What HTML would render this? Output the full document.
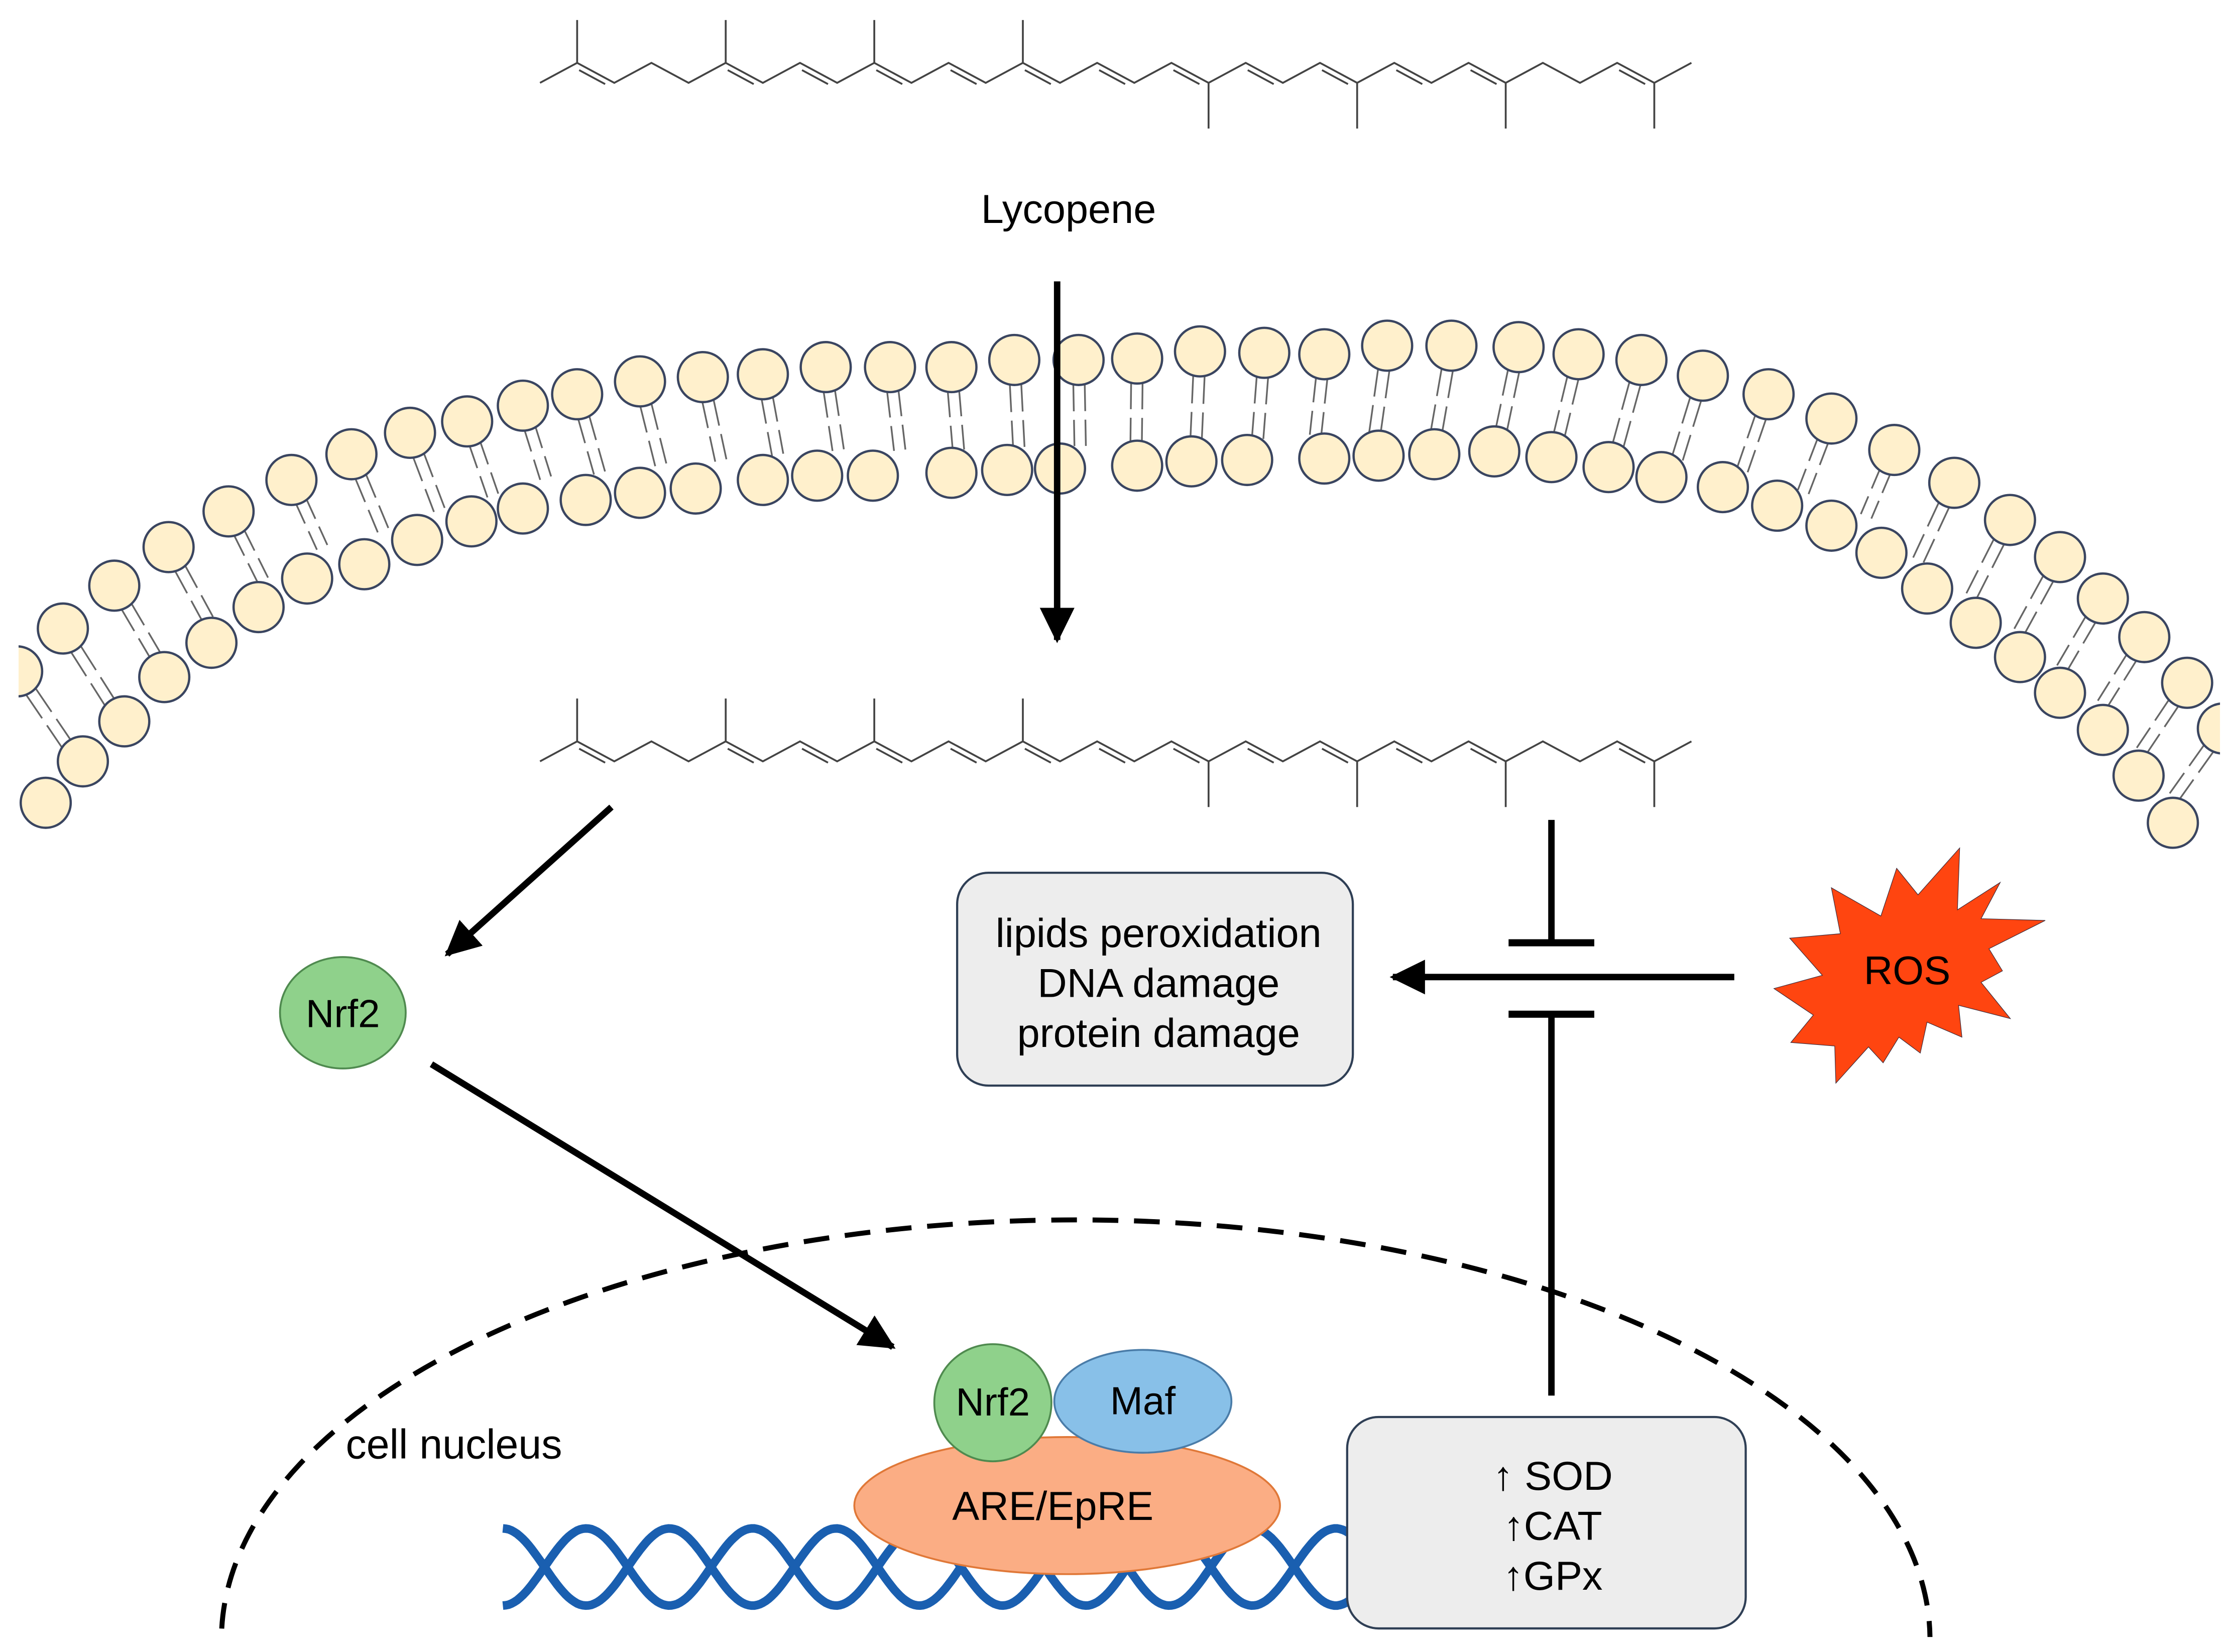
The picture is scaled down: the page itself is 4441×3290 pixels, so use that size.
<!DOCTYPE html>
<html><head><meta charset="utf-8"><style>
html,body{margin:0;padding:0;background:#fff;width:4441px;height:3290px;overflow:hidden}
svg{display:block}
text{font-family:"Liberation Sans",Arial,sans-serif;fill:#000}
</style></head><body>
<svg id="s" width="4441" height="3290" viewBox="0 0 1561 1156.5" preserveAspectRatio="none" xmlns="http://www.w3.org/2000/svg">
<defs>
<marker id="ah" markerWidth="6" markerHeight="6" refX="5" refY="3" orient="auto" markerUnits="strokeWidth">
<path d="M0,0.3 L5.5,3 L0,5.7 Z" fill="#000"/></marker>
<clipPath id="cl"><rect x="13" y="0" width="1541" height="1156"/></clipPath>
<clipPath id="cn"><rect x="0" y="0" width="1561" height="1146"/></clipPath>
</defs>
<g id="mem" clip-path="url(#cl)"></g>
<g id="mol1" stroke="#444" stroke-width="1.3" fill="none"></g>
<g id="mol2" stroke="#444" stroke-width="1.3" fill="none" transform="translate(0,475)"></g>
<text x="748" y="156" font-size="28.5" text-anchor="middle">Lycopene</text>

<ellipse cx="753" cy="1148" rx="598" ry="294" fill="none" stroke="#000" stroke-width="3.5" stroke-dasharray="18,11" clip-path="url(#cn)"/>
<text x="242" y="1021" font-size="29">cell nucleus</text>

<line x1="740" y1="197" x2="740" y2="448" stroke="#000" stroke-width="4.5" marker-end="url(#ah)"/>
<line x1="428" y1="565" x2="313" y2="668" stroke="#000" stroke-width="4.5" marker-end="url(#ah)"/>
<line x1="302" y1="745" x2="625" y2="943" stroke="#000" stroke-width="4.5" marker-end="url(#ah)"/>
<line x1="1214" y1="684" x2="975" y2="684" stroke="#000" stroke-width="4.5" marker-end="url(#ah)"/>
<line x1="1086" y1="574" x2="1086" y2="660" stroke="#000" stroke-width="4.5"/>
<line x1="1056" y1="660" x2="1116" y2="660" stroke="#000" stroke-width="5"/>
<line x1="1056" y1="710" x2="1116" y2="710" stroke="#000" stroke-width="5"/>
<line x1="1086" y1="710" x2="1086" y2="977" stroke="#000" stroke-width="4.5"/>

<rect x="670" y="611" width="277" height="149" rx="22" fill="#ededed" stroke="#2f3f55" stroke-width="1.5"/>
<text x="811" y="663" font-size="28.5" text-anchor="middle">lipids peroxidation</text>
<text x="811" y="698" font-size="28.5" text-anchor="middle">DNA damage</text>
<text x="811" y="733" font-size="28.5" text-anchor="middle">protein damage</text>

<polygon transform="translate(1212.6,580) scale(0.1576,0.1238)" fill="#ff4510" stroke="#3a2a3a" stroke-width="1.2" vector-effect="non-scaling-stroke"
points="1010,110 1000,460 1190,305 1105,510 1390,520 1140,680 1200,805 1105,870 1235,1075 1005,1000 1020,1180 865,1095 835,1270 740,1180 670,1325 605,1235 460,1440 455,1230 260,1210 360,1055 185,905 400,830 255,620 480,595 440,335 660,495 730,225 825,375"/>
<text x="1335" y="689" font-size="28" text-anchor="middle">ROS</text>

<ellipse cx="240" cy="709" rx="44" ry="39" fill="#8fd18b" stroke="#4f8a4f" stroke-width="1.3"/>
<text x="240" y="719" font-size="27.5" text-anchor="middle">Nrf2</text>

<g id="dna" fill="none" stroke="#1a5fb0" stroke-width="6"></g>
<ellipse cx="747" cy="1054" rx="149" ry="48" fill="#fbad84" stroke="#e07838" stroke-width="1.3"/>
<text x="737" y="1064" font-size="28.5" text-anchor="middle">ARE/EpRE</text>
<ellipse cx="800" cy="981" rx="62" ry="36" fill="#88c0e8" stroke="#4a7ca8" stroke-width="1.3"/>
<text x="800" y="990" font-size="27.5" text-anchor="middle">Maf</text>
<circle cx="695" cy="982" r="41" fill="#8fd18b" stroke="#4f8a4f" stroke-width="1.3"/>
<text x="695" y="991" font-size="27.5" text-anchor="middle">Nrf2</text>

<rect x="943" y="992" width="279" height="148" rx="22" fill="#ededed" stroke="#2f3f55" stroke-width="1.5"/>
<text x="1087" y="1043" font-size="28.5" text-anchor="middle">↑ SOD</text>
<text x="1087" y="1078" font-size="28.5" text-anchor="middle">↑CAT</text>
<text x="1087" y="1113" font-size="28.5" text-anchor="middle">↑GPx</text>
</svg>
<script>
var NS="http://www.w3.org/2000/svg";
function el(p,t,a){var e=document.createElementNS(NS,t);for(var k in a)e.setAttribute(k,a[k]);p.appendChild(e);return e;}
function mol(g){
 var pts=[];for(var k=0;k<32;k++){pts.push([378+26*k,k%2?44:58]);}
 el(g,"polyline",{points:pts.map(function(p){return p.join(",")}).join(" ")});
 [1,5,9,13].forEach(function(k){el(g,"line",{x1:pts[k][0],y1:44,x2:pts[k][0],y2:14});});
 [18,22,26,30].forEach(function(k){el(g,"line",{x1:pts[k][0],y1:58,x2:pts[k][0],y2:90});});
 var dbl=[[1,2],[5,6],[7,8],[9,10],[11,12],[13,14],[15,16],[17,18],[19,20],[21,22],[23,24],[25,26],[29,30]];
 dbl.forEach(function(d){var a=pts[d[0]],b=pts[d[1]];var dx=b[0]-a[0],dy=b[1]-a[1];
  var nx=(a[1]<b[1]?1:-1)*2.5, ny=-3;
  el(g,"line",{x1:a[0]+dx*0.15-nx,y1:a[1]+dy*0.15-ny,x2:a[0]+dx*0.85-nx,y2:a[1]+dy*0.85-ny});
 });
}
mol(document.getElementById("mol1"));mol(document.getElementById("mol2"));
var outer=[[12,470],[44,440],[80,410],[118,383],[160,358],[204,336],[246,318],[287,303],[327,295],[366,284],[404,276],[448,267],[492,264],[534,262],[578,257],[623,257],[666,257],[710,252],[755,252],[796,251],[840,246],[885,247],[927,248],[971,242],[1016,242],[1063,243],[1105,248],[1149,252],[1192,263],[1238,276],[1282,293],[1326,315],[1368,338],[1407,364],[1442,390],[1472,419],[1501,446],[1531,478],[1556,510]];
var inner=[[32,562],[58,533],[87,505],[115,474],[148,450],[181,425],[215,405],[255,395],[292,378],[330,365],[366,356],[410,350],[448,345],[487,342],[534,336],[572,333],[611,333],[666,331],[705,329],[742,328],[796,326],[834,323],[873,322],[927,321],[965,319],[1004,318],[1046,316],[1086,320],[1126,327],[1163,334],[1206,341],[1244,354],[1282,368],[1317,387],[1349,412],[1383,436],[1414,460],[1442,485],[1472,511],[1497,543],[1521,576]];
var m=document.getElementById("mem");
var R=17.5, cx0=780, cy0=1600;
outer.forEach(function(o){
 var ux=cx0-o[0], uy=cy0-o[1], rl=Math.hypot(ux,uy); ux/=rl; uy/=rl;
 var L=80;var bp=1e9;
 inner.forEach(function(i){var dx=i[0]-o[0],dy=i[1]-o[1];var along=dx*ux+dy*uy;var perp=Math.abs(dx*uy-dy*ux);if(along>30&&perp<bp){bp=perp;L=along;}});
 if(bp>40)L=80;
 var nx=-uy*4,ny=ux*4;
 var s=R,e=L-R+2,mid=(s+e)/2;
 [-1,1].forEach(function(sg){
  el(m,"line",{x1:o[0]+ux*s+nx*sg,y1:o[1]+uy*s+ny*sg,x2:o[0]+ux*(mid-3)+nx*sg,y2:o[1]+uy*(mid-3)+ny*sg,stroke:"#666","stroke-width":1.2});
  el(m,"line",{x1:o[0]+ux*(mid+3)+nx*sg,y1:o[1]+uy*(mid+3)+ny*sg,x2:o[0]+ux*e+nx*sg,y2:o[1]+uy*e+ny*sg,stroke:"#666","stroke-width":1.2});
 });
});
outer.concat(inner).forEach(function(c){el(m,"circle",{cx:c[0],cy:c[1],r:R,fill:"#fff0cc",stroke:"#3a4560","stroke-width":1.6});});
var d=document.getElementById("dna");
function strand(ph){var s="";for(var x=352;x<=945;x+=2){var y=1097+27*Math.cos((x-352)/58.3*Math.PI+ph);s+=(x==352?"M":"L")+x+","+y.toFixed(1);}el(d,"path",{d:s});}
strand(0);strand(Math.PI);
</script>
</body></html>
